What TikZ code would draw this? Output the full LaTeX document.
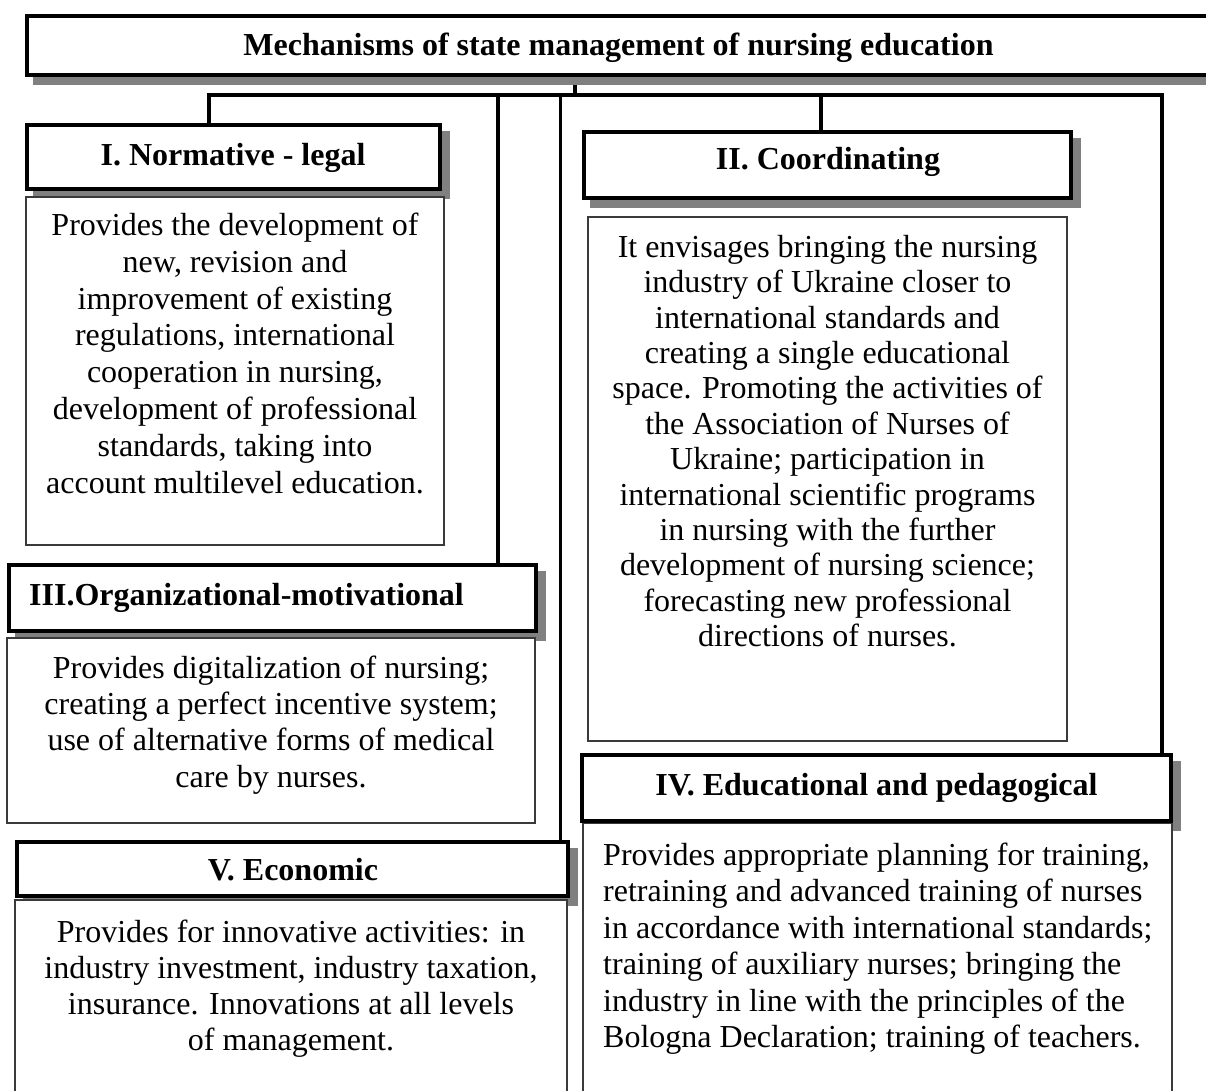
\documentclass[tikz,border=0pt]{standalone}
\usepackage{fontspec}
\setmainfont{Liberation Serif}
\usetikzlibrary{backgrounds}
\definecolor{shadowgray}{HTML}{808080}
\definecolor{thinline}{HTML}{3A3A3A}
\newcommand\firstline{\rule{0pt}{24pt}}
\begin{document}
\begin{tikzpicture}[x=1pt,y=-1pt,
  headbox/.style={draw=black, line width=3.6pt, fill=white, inner sep=0pt,
    outer sep=0pt, anchor=north west},
  textbox/.style={draw=thinline, line width=1.2pt, fill=white, inner sep=0pt,
    outer sep=0pt, anchor=north west},
  headtext/.style={inner sep=0pt, anchor=base,
    font=\fontsize{32}{37}\selectfont\bfseries},
  bodytext/.style={inner sep=0pt, anchor=north, align=center},
  link/.style={draw=black, line width=3.4pt},
  shade/.style={fill=shadowgray}
]
\useasboundingbox (0,0) rectangle (1206,1091);
\clip (0,0) rectangle (1206,1091);

% description boxes (thin frames)
\node[textbox, minimum width=418pt, minimum height=348pt] (c1) at (26,197) {};
\node[textbox, minimum width=479pt, minimum height=524pt] (c2) at (588,217) {};
\node[textbox, minimum width=528pt, minimum height=185pt] (c3) at (7,638) {};
\node[textbox, minimum width=589pt, minimum height=290pt] (c4) at (583,823) {};
\node[textbox, minimum width=552pt, minimum height=210pt] (c5) at (15,900) {};

% heading boxes (thick frames)
\node[headbox, minimum width=1203pt, minimum height=59pt] (t) at (27,16) {};
\node[headbox, minimum width=413pt, minimum height=64pt] (h1) at (27,125) {};
\node[headbox, minimum width=487pt, minimum height=66pt] (h2) at (584,132) {};
\node[headbox, minimum width=527pt, minimum height=66pt] (h3) at (9,565) {};
\node[headbox, minimum width=589pt, minimum height=66pt] (h4) at (582,755) {};
\node[headbox, minimum width=551pt, minimum height=54pt] (h5) at (17,842) {};

% shadows and connectors behind the boxes
\begin{scope}[on background layer]
  \clip (0,0) rectangle (1206,1091);
  \coordinate (busT) at (575,95);
  \coordinate (busL) at (209,95);
  \coordinate (busR) at (1162,95);
  \coordinate (x2) at (821,95);
  \coordinate (x3) at (498,95);
  \coordinate (x5) at (560.5,95);
  \draw[link] (t.south -| busT) -- (busT);
  \draw[link] (h1.north -| busL) -- (busL) -- (busR) -- (h4.north -| busR);
  \draw[link] (x2) -- (h2.north -| x2);
  \draw[link] (x3) -- (h3.north -| x3);
  \draw[link] (x5) -- (h5.north -| x5);
  \foreach \b in {t,h1,h2,h3,h4,h5}
    \fill[shade] ([shift={(6.2pt,-6.2pt)}]\b.north west)
      rectangle ([shift={(9.8pt,-9.8pt)}]\b.south east);
\end{scope}

% headings
\node[headtext] (tt) at (618.5,56) {Mechanisms of state management of nursing education};
\node[headtext] (h1t) at (233,166) {I. Normative - legal};
\node[headtext] (h2t) at (828,170) {II. Coordinating};
\node[headtext, anchor=base west] (h3t) at (29,605) {III.Organizational-motivational};
\node[headtext] (h4t) at (876.5,795) {IV. Educational and pedagogical};
\node[headtext] (h5t) at (293,880) {V. Economic};

% descriptions
\node[bodytext, font=\fontsize{32}{36.9}\selectfont] (c1t) at (235,211)
  {\firstline Provides the development of\\ new, revision and\\ improvement of existing\\
   regulations, international\\ cooperation in nursing,\\ development of professional\\
   standards, taking into\\ account multilevel education.};
\node[bodytext, font=\fontsize{32}{35.4}\selectfont] (c2t) at (827.5,233)
  {\firstline It envisages bringing the nursing\\ industry of Ukraine closer to\\
   international standards and\\ creating a single educational\\
   space. Promoting the activities of\\ the Association of Nurses of\\
   Ukraine; participation in\\ international scientific programs\\
   in nursing with the further\\ development of nursing science;\\
   forecasting new professional\\ directions of nurses.};
\node[bodytext, font=\fontsize{32}{36.3}\selectfont] (c3t) at (271,654)
  {\firstline Provides digitalization of nursing;\\ creating a perfect incentive system;\\
   use of alternative forms of medical\\ care by nurses.};
\node[bodytext, anchor=north west, align=left, font=\fontsize{32}{36.5}\selectfont] (c4t) at (603,841)
  {\firstline Provides appropriate planning for training,\\
   retraining and advanced training of nurses\\
   in accordance with international standards;\\
   training of auxiliary nurses; bringing the\\
   industry in line with the principles of the\\
   Bologna Declaration; training of teachers.};
\node[bodytext, font=\fontsize{32}{36}\selectfont] (c5t) at (291,918)
  {\firstline Provides for innovative activities: in\\ industry investment, industry taxation,\\
   insurance. Innovations at all levels\\ of management.};
\end{tikzpicture}
\end{document}
